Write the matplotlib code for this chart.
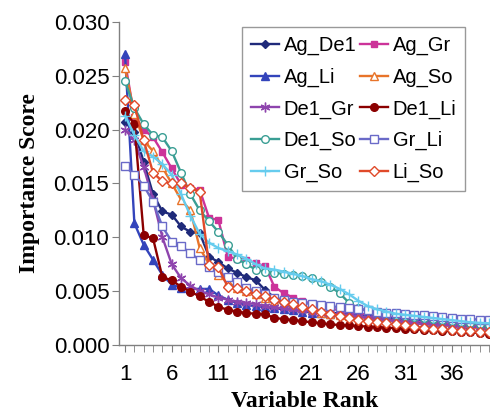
import matplotlib
matplotlib.use("Agg")
import matplotlib.pyplot as plt
import numpy as np

plt.rcParams["font.family"] = ["Liberation Sans", "DejaVu Sans"]

ranks = list(range(1, 41))

ag_de1 = [20.7, 19.8, 17.0, 14.0, 12.4, 12.1, 11.0, 10.5, 10.4, 8.2, 7.7, 7.1, 6.7, 6.3, 6.0, 5.1, 4.4, 4.0, 3.7, 3.5, 3.3, 3.1, 3.0, 2.9, 2.8, 2.7, 2.6, 2.5, 2.4, 2.3, 2.2, 2.1, 2.0, 1.9, 1.8, 1.75, 1.7, 1.6, 1.55, 1.5]
ag_gr = [26.3, 21.2, 20.0, 19.3, 17.9, 16.4, 14.9, 14.6, 14.4, 11.8, 11.6, 8.2, 8.0, 7.9, 7.6, 7.3, 5.4, 4.8, 4.4, 4.1, 3.8, 3.6, 3.4, 3.2, 3.0, 2.9, 2.8, 2.7, 2.6, 2.5, 2.4, 2.3, 2.2, 2.1, 2.0, 1.9, 1.85, 1.8, 1.75, 1.7]
ag_li = [27.0, 11.3, 9.3, 7.9, 6.5, 5.6, 5.3, 5.2, 5.2, 5.2, 4.6, 4.2, 3.9, 3.7, 3.6, 3.5, 3.4, 3.3, 3.2, 3.1, 3.0, 2.95, 2.9, 2.85, 2.8, 2.7, 2.65, 2.6, 2.5, 2.45, 2.4, 2.35, 2.3, 2.25, 2.2, 2.15, 2.1, 2.05, 2.0, 1.95]
ag_so = [25.7, 21.5, 19.0, 18.0, 16.5, 15.0, 13.5, 12.5, 9.0, 7.5, 6.5, 5.8, 5.3, 5.0, 4.7, 4.4, 4.1, 3.8, 3.6, 3.4, 3.2, 3.0, 2.9, 2.8, 2.7, 2.6, 2.5, 2.4, 2.3, 2.2, 2.1, 2.0, 1.9, 1.85, 1.8, 1.7, 1.65, 1.6, 1.55, 1.5]
de1_gr = [20.0, 19.0, 16.5, 13.5, 10.0, 7.5, 6.2, 5.5, 5.0, 4.7, 4.4, 4.2, 4.0, 3.9, 3.8, 3.6, 3.5, 3.4, 3.3, 3.2, 3.1, 3.0, 2.9, 2.8, 2.7, 2.6, 2.5, 2.4, 2.3, 2.2, 2.1, 2.0, 1.95, 1.9, 1.85, 1.8, 1.75, 1.7, 1.65, 1.6]
de1_li = [21.7, 20.5, 10.2, 9.9, 6.3, 6.0, 5.4, 4.95, 4.5, 4.0, 3.55, 3.25, 3.1, 2.95, 2.9, 2.85, 2.5, 2.4, 2.3, 2.2, 2.1, 2.0, 1.9, 1.85, 1.8, 1.75, 1.7, 1.65, 1.6, 1.55, 1.5, 1.45, 1.4, 1.35, 1.3, 1.25, 1.2, 1.15, 1.1, 1.05]
de1_so = [24.5, 22.0, 20.5, 19.5, 19.3, 18.0, 16.0, 14.0, 12.5, 11.5, 10.5, 9.3, 8.0, 7.5, 7.0, 6.8, 6.7, 6.6, 6.5, 6.4, 6.2, 5.8, 5.4, 4.8, 3.9, 3.4, 3.2, 3.0, 2.9, 2.8, 2.7, 2.6, 2.5, 2.4, 2.3, 2.2, 2.1, 2.0, 1.9, 1.8]
gr_li = [16.6, 15.8, 14.8, 13.3, 11.0, 9.6, 9.2, 8.5, 7.9, 7.2, 6.8, 6.3, 5.8, 5.3, 5.0, 4.7, 4.4, 4.2, 4.0, 3.9, 3.8, 3.7, 3.6, 3.5, 3.4, 3.3, 3.2, 3.1, 3.0, 2.95, 2.9, 2.8, 2.75, 2.7, 2.6, 2.5, 2.45, 2.4, 2.35, 2.3]
gr_so = [21.3, 19.5, 18.0, 17.5, 16.8, 15.8, 14.0, 12.0, 10.3, 9.5, 9.0, 8.7, 8.4, 8.0, 7.5, 7.1, 7.0, 6.8, 6.6, 6.4, 6.1, 5.9, 5.6, 5.2, 4.7, 4.1, 3.6, 3.3, 3.1, 2.9, 2.8, 2.7, 2.6, 2.5, 2.4, 2.3, 2.2, 2.1, 2.05, 2.0]
li_so = [22.8, 22.3, 19.0, 16.0, 15.2, 15.0, 15.0, 14.6, 14.2, 7.4, 7.2, 5.4, 5.3, 5.0, 4.7, 4.5, 4.2, 4.0, 3.8, 3.5, 3.3, 3.1, 2.9, 2.7, 2.5, 2.3, 2.2, 2.1, 2.0, 1.9, 1.8, 1.7, 1.6, 1.5, 1.45, 1.4, 1.3, 1.25, 1.2, 1.15]

names = ["Ag_De1", "Ag_Gr", "Ag_Li", "Ag_So", "De1_Gr", "De1_Li", "De1_So", "Gr_Li", "Gr_So", "Li_So"]
series = [ag_de1, ag_gr, ag_li, ag_so, de1_gr, de1_li, de1_so, gr_li, gr_so, li_so]
colors = ["#1F2A7A", "#CC3399", "#3344BB", "#E8742A", "#8E44AD", "#8B0000", "#3A9E94", "#6A6AC8", "#66CCEE", "#E04A2A"]
markers = ["D", "s", "^", "^", (6, 2, 0), "o", "o", "s", "+", "D"]
filled = [True, True, True, False, True, True, False, False, True, False]
msizes = [4.5, 5, 5.5, 5.5, 7, 5.5, 5.5, 5.5, 7, 5]

fig = plt.figure(figsize=(4.9, 4.16), dpi=100)
ax = fig.add_axes([0.243, 0.171, 0.757, 0.776])

handles = {}
for name, vals, c, m, f, ms in zip(names, series, colors, markers, filled, msizes):
    y = np.array(vals) / 1000.0
    h, = ax.plot(ranks, y, color=c, marker=m, markersize=ms, linewidth=1.7,
                 markerfacecolor=(c if f else "white"), markeredgecolor=c,
                 markeredgewidth=1.0, label=name)
    handles[name] = h

ax.set_xlim(0.36, 40.1)
ax.set_ylim(0, 0.030)
ax.set_yticks(np.arange(0, 0.0301, 0.005))
ax.set_yticklabels(["%.3f" % v for v in np.arange(0, 0.0301, 0.005)])
ax.set_xticks([1, 6, 11, 16, 21, 26, 31, 36])
ax.set_xticks(ranks, minor=True)

for s in ["top", "right"]:
    ax.spines[s].set_visible(False)
for s in ["left", "bottom"]:
    ax.spines[s].set_color("#808080")
    ax.spines[s].set_linewidth(1.0)

ax.tick_params(axis="both", which="both", direction="out", colors="#808080",
               labelcolor="black", labelsize=16)
ax.tick_params(axis="x", which="major", length=5, pad=9)
ax.tick_params(axis="x", which="minor", length=5)
ax.tick_params(axis="y", which="major", length=5, pad=2)

ax.set_xlabel("Variable Rank", family="Liberation Serif", fontweight="bold", fontsize=17, labelpad=4)
ax.set_ylabel("Importance Score", family="Liberation Serif", fontweight="bold", fontsize=17, labelpad=10)

order = ["Ag_De1", "Ag_Li", "De1_Gr", "De1_So", "Gr_So",
         "Ag_Gr", "Ag_So", "De1_Li", "Gr_Li", "Li_So"]
leg = ax.legend([handles[n] for n in order], order, ncol=2, loc="upper left",
                bbox_to_anchor=(0.332, 0.985), fontsize=14.5, frameon=True,
                fancybox=False, edgecolor="#808080", handlelength=1.4,
                handletextpad=0.2, columnspacing=0.2, borderpad=0.45,
                labelspacing=0.62, borderaxespad=0)
leg.get_frame().set_linewidth(1.0)

fig.savefig("out.png", dpi=100)
